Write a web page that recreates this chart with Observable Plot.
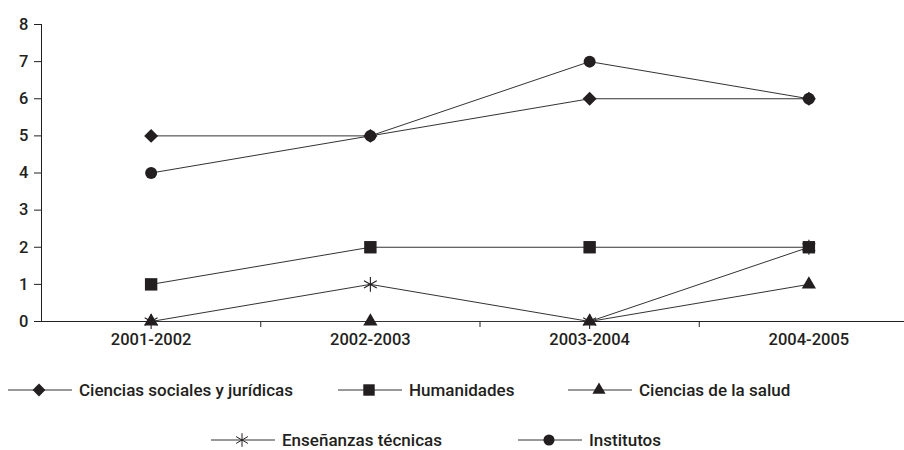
<!DOCTYPE html>
<html><head><meta charset="utf-8">
<script src="https://cdn.jsdelivr.net/npm/d3@7"></script>
<script src="https://cdn.jsdelivr.net/npm/@observablehq/plot@0.6"></script>
<style>
body{margin:0;background:#fff;}
#chart{width:904px;height:450px;position:relative;overflow:hidden;background:#fff;}
#legend{position:absolute;left:0;top:360px;width:904px;height:90px;font-family:Roboto,sans-serif;font-weight:500;font-size:17px;color:#231f20;}
.item{position:absolute;display:flex;align-items:center;height:20px;white-space:nowrap;}
.item svg{margin-right:7px;flex:none;}
</style></head><body><div id="chart"><div id="legend"></div></div>
<script>
const periods = ["2001-2002", "2002-2003", "2003-2004", "2004-2005"];
const seriesNames = ["Ciencias sociales y jurídicas", "Humanidades", "Ciencias de la salud", "Enseñanzas técnicas", "Institutos"];
const cienciasSociales = [5, 5, 6, 6];
const humanidades = [1, 2, 2, 2];
const cienciasSalud = [0, 0, 0, 1];
const ensenanzasTecnicas = [0, 1, 0, 2];
const institutos = [4, 5, 7, 6];
const yTicks = [0, 1, 2, 3, 4, 5, 6, 7, 8];

const seriesValues = [cienciasSociales, humanidades, cienciasSalud, ensenanzasTecnicas, institutos];

// styling (not data)
const ink = "#231f20";
const lineInk = "#333333";
const markerStyle = {
  "Ciencias sociales y jurídicas": {symbol: "diamond2", r: 6.3, filled: true},
  "Humanidades": {symbol: "square", r: 7.0, filled: true},
  "Ciencias de la salud": {symbol: "triangle", r: 5.3, filled: true},
  "Enseñanzas técnicas": {symbol: "asterisk", r: 7.0, filled: false},
  "Institutos": {symbol: "circle", r: 6.0, filled: true}
};
const legendPos = [
  {left: 8, top: 30}, {left: 338, top: 30}, {left: 568, top: 30},
  {left: 211, top: 80}, {left: 518, top: 80}
];

const data = seriesNames.flatMap((name, s) =>
  seriesValues[s].map((v, i) => ({series: name, period: periods[i], idx: i, value: v})));

const xPos = d => d.idx + 0.5;

const dotMarks = seriesNames.map(name => {
  const st = markerStyle[name];
  return Plot.dot(data.filter(d => d.series === name), {
    x: xPos, y: "value", symbol: st.symbol, r: st.r,
    fill: st.filled ? ink : "none", stroke: st.filled ? "none" : ink, strokeWidth: 1.1
  });
});

const plot = Plot.plot({
  width: 904, height: 360,
  marginTop: 24, marginBottom: 39, marginLeft: 41, marginRight: 0,
  x: {type: "linear", domain: [0, periods.length], range: [41, 918]},
  y: {domain: [0, 8], range: [321, 24]},
  style: {fontFamily: "Roboto, sans-serif", fontSize: "16.5px", fontWeight: 500, color: ink, background: "#fff", overflow: "hidden"},
  marks: [
    Plot.axisY({ticks: yTicks, tickSize: 7, tickPadding: 6, tickFormat: d => String(d), label: null, stroke: ink, fill: ink}),
    Plot.axisX({ticks: d3.range(1, periods.length), tickSize: 6, tickFormat: () => "", label: null, stroke: ink}),
    Plot.axisX({ticks: periods.map((p, i) => i + 0.5), tickSize: 0, tickPadding: 12, tickFormat: d => periods[Math.floor(d)], label: null, fill: ink}),
    Plot.ruleX([0], {stroke: ink, strokeWidth: 1}),
    Plot.ruleY([0], {stroke: ink, strokeWidth: 1.2}),
    Plot.line(data, {x: xPos, y: "value", z: "series", stroke: lineInk, strokeWidth: 1}),
    ...dotMarks
  ]
});
const chart = document.getElementById("chart");
chart.insertBefore(plot, chart.firstChild);

// legend
const legend = d3.select("#legend");
const symMap = {diamond2: d3.symbolDiamond2, square: d3.symbolSquare, triangle: d3.symbolTriangle, asterisk: d3.symbolAsterisk, circle: d3.symbolCircle};
seriesNames.forEach((name, i) => {
  const st = markerStyle[name];
  const item = legend.append("div").attr("class", "item")
    .style("left", legendPos[i].left + "px").style("top", (legendPos[i].top - 10) + "px");
  const svg = item.append("svg").attr("width", 64).attr("height", 20);
  svg.append("line").attr("x1", 0).attr("x2", 64).attr("y1", 10).attr("y2", 10)
    .attr("stroke", lineInk).attr("stroke-width", 1);
  svg.append("path").attr("transform", "translate(31,10)")
    .attr("d", d3.symbol(symMap[st.symbol], Math.PI * st.r * st.r * 0.85)())
    .attr("fill", st.filled ? ink : "none").attr("stroke", st.filled ? "none" : ink).attr("stroke-width", 1);
  item.append("span").text(name);
});
</script>
</body></html>
